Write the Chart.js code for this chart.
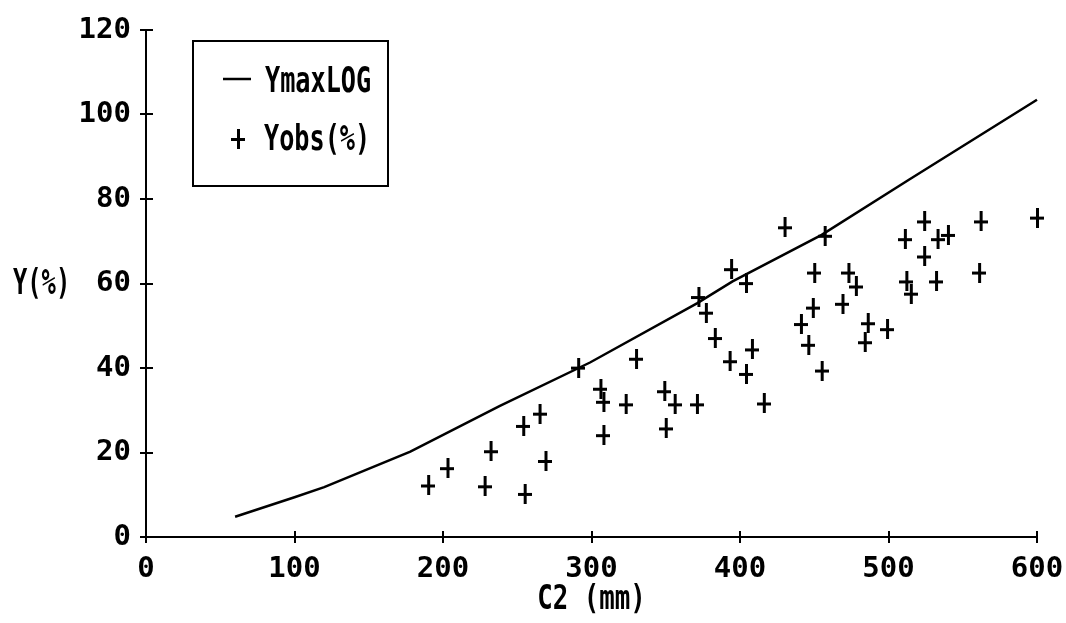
<!DOCTYPE html>
<html>
<head>
<meta charset="utf-8">
<script src="https://cdn.jsdelivr.net/npm/chart.js@4/dist/chart.umd.min.js"></script>
<style>
  html, body { margin: 0; padding: 0; background: #fff; }
  #wrap { width: 1066px; height: 623px; position: relative; }
</style>
</head>
<body>
<div id="wrap"><canvas id="c" width="1066" height="623"></canvas></div>
<script>
// YmaxLOG envelope curve
const curveX = [60, 100, 120, 178, 238, 299, 371, 395, 455, 514, 600];
const curveY = [4.8, 9.4, 11.8, 20.2, 31.0, 41.3, 55.3, 60.5, 71.5, 84.6, 103.5];

// Observed yields Yobs(%) against C2 (mm)
const obsX = [190, 203, 228, 232, 254, 255, 265, 269, 291, 306,
              308, 308, 323, 330, 349, 350, 356, 371, 372, 377,
              383, 393, 394, 404, 404, 408, 416, 430, 441, 446,
              449, 450, 455, 457, 469, 473, 478, 484, 486, 499,
              511, 512, 515, 524, 524, 532, 533, 540, 561, 562,
              600];
const obsY = [12.2, 16.3, 12.0, 20.3, 26.3, 10.2, 29.2, 18.0, 40.1, 35.1,
              32.0, 24.1, 31.4, 42.2, 34.5, 25.7, 31.4, 31.4, 56.8, 53.1,
              47.1, 41.6, 63.4, 60.1, 38.6, 44.4, 31.6, 73.3, 50.4, 45.5,
              54.3, 62.6, 39.4, 71.3, 55.2, 62.6, 59.3, 46.1, 50.6, 49.2,
              70.5, 60.5, 57.6, 74.7, 66.4, 60.5, 70.5, 71.5, 62.6, 74.7,
              75.6];

const xTicks = [0, 100, 200, 300, 400, 500, 600];
const yTicks = [0, 20, 40, 60, 80, 100, 120];

const seriesNames = ['YmaxLOG', 'Yobs(%)'];
const xTitle = 'C2 (mm)';
const yTitle = 'Y(%)';

const FAMILY = "'DejaVu Sans Mono', 'Liberation Mono', monospace";

// tall "+" marker used for the observations
function makeCross(w, h, lw) {
  const cv = document.createElement('canvas');
  cv.width = w; cv.height = h;
  const g = cv.getContext('2d');
  g.fillStyle = '#000';
  g.fillRect(0, Math.round(h / 2 - lw / 2), w, lw);
  g.fillRect(Math.round(w / 2 - lw / 2), 0, lw, h);
  return cv;
}
const crossImg = makeCross(14, 20, 3);

const curveData = curveX.map((x, i) => ({ x, y: curveY[i] }));
const obsData = obsX.map((x, i) => ({ x, y: obsY[i] }));

// draws narrow, tall lettering (squeezed horizontally)
function tallText(ctx, text, x, y, size, squeeze, align) {
  ctx.save();
  ctx.translate(x, y);
  ctx.scale(squeeze, 1);
  ctx.font = 'bold ' + size + 'px ' + FAMILY;
  ctx.textAlign = align || 'left';
  ctx.textBaseline = 'middle';
  ctx.fillStyle = '#000';
  ctx.fillText(text, 0, 0);
  ctx.restore();
}

// small tick marks on the inner side of both axes
const innerTicks = {
  id: 'innerTicks',
  afterDraw(chart) {
    const { ctx, chartArea, scales } = chart;
    ctx.save();
    ctx.strokeStyle = '#000';
    ctx.lineWidth = 2;
    ctx.beginPath();
    scales.x.ticks.forEach(t => {
      const px = Math.round(scales.x.getPixelForValue(t.value));
      ctx.moveTo(px, chartArea.bottom);
      ctx.lineTo(px, chartArea.bottom - 6);
    });
    scales.y.ticks.forEach(t => {
      const py = Math.round(scales.y.getPixelForValue(t.value));
      ctx.moveTo(chartArea.left, py);
      ctx.lineTo(chartArea.left + 7, py);
    });
    ctx.stroke();
    ctx.restore();
  }
};

// axis captions: horizontal Y caption level with the 60 tick, X caption under the axis
const axisCaptions = {
  id: 'axisCaptions',
  afterDraw(chart) {
    const { ctx, chartArea, scales } = chart;
    tallText(ctx, yTitle, 13, scales.y.getPixelForValue(60) + 1, 36, 0.66);
    tallText(ctx, xTitle, (chartArea.left + chartArea.right) / 2, 600, 33, 0.78, 'center');
  }
};

// boxed legend in the upper left of the plot
const boxLegend = {
  id: 'boxLegend',
  afterDraw(chart) {
    const { ctx, chartArea } = chart;
    const L = chartArea.left + 47, T = chartArea.top + 11;
    const W = 195, H = 145;
    ctx.save();
    ctx.strokeStyle = '#000';
    ctx.lineWidth = 2;
    ctx.strokeRect(L, T, W, H);
    ctx.lineWidth = 2.5;
    ctx.beginPath();
    ctx.moveTo(L + 30, T + 38);
    ctx.lineTo(L + 58, T + 38);
    ctx.stroke();
    ctx.drawImage(crossImg, L + 45 - 7, T + 98 - 10);
    ctx.restore();
    tallText(ctx, chart.data.datasets[0].label, L + 72, T + 42, 36, 0.70);
    tallText(ctx, chart.data.datasets[1].label, L + 71, T + 100, 36, 0.70);
  }
};

new Chart(document.getElementById('c'), {
  data: {
    datasets: [
      {
        type: 'line',
        label: seriesNames[0],
        data: curveData,
        borderColor: '#000',
        borderWidth: 2.5,
        pointRadius: 0,
        tension: 0,
        fill: false,
        clip: false
      },
      {
        type: 'scatter',
        label: seriesNames[1],
        data: obsData,
        pointStyle: crossImg,
        pointRadius: 8,
        borderColor: '#000',
        backgroundColor: '#000',
        clip: false
      }
    ]
  },
  options: {
    responsive: false,
    animation: false,
    devicePixelRatio: 1,
    layout: { padding: { left: 0, top: 30, right: 29, bottom: 0 } },
    plugins: {
      legend: { display: false },
      tooltip: { enabled: false }
    },
    scales: {
      x: {
        type: 'linear',
        min: 0, max: 600,
        afterBuildTicks(s) { s.ticks = xTicks.map(v => ({ value: v })); },
        afterFit(s) { s.height = 86; s.paddingLeft = 0; s.paddingRight = 0; },
        ticks: {
          color: '#000',
          padding: 9,
          maxRotation: 0,
          font: { family: FAMILY, size: 29, weight: 'bold' }
        },
        grid: { drawOnChartArea: false, drawTicks: true, tickLength: 6, color: '#000', lineWidth: 2 },
        border: { display: true, color: '#000', width: 2 },
        title: { display: false }
      },
      y: {
        type: 'linear',
        min: 0, max: 120,
        afterBuildTicks(s) { s.ticks = yTicks.map(v => ({ value: v })); },
        afterFit(s) { s.width = 146; s.paddingTop = 0; s.paddingBottom = 0; },
        ticks: {
          color: '#000',
          padding: 9,
          font: { family: FAMILY, size: 29, weight: 'bold' }
        },
        grid: { drawOnChartArea: false, drawTicks: true, tickLength: 6, color: '#000', lineWidth: 2 },
        border: { display: true, color: '#000', width: 2 }
      }
    }
  },
  plugins: [innerTicks, axisCaptions, boxLegend]
});
</script>
</body>
</html>
